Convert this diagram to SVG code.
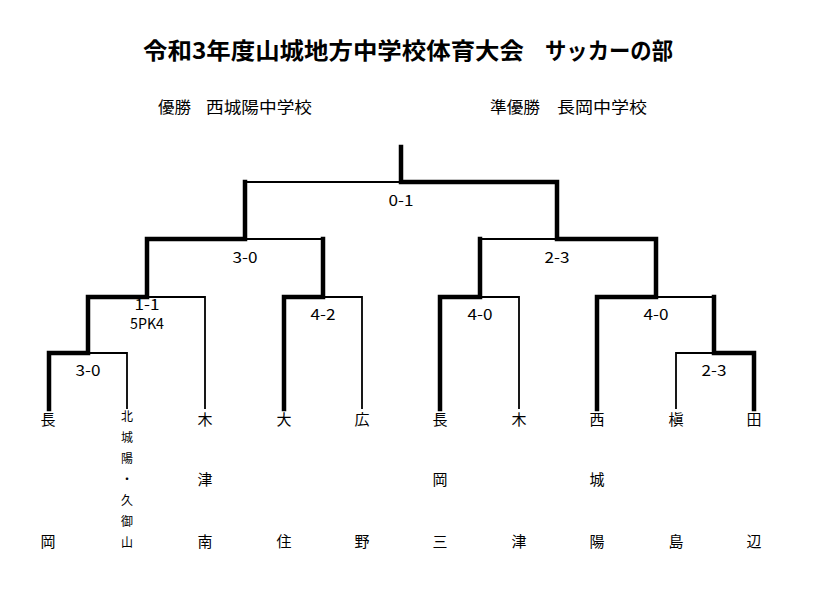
<svg xmlns="http://www.w3.org/2000/svg" width="819" height="594" viewBox="0 0 819 594">
<style>
text{font-family:"Noto Sans CJK JP","Liberation Sans",sans-serif;fill:#000}
.title{font-size:23px;font-weight:bold}
.sub{font-size:16px}
.score{font-size:15px;text-anchor:middle}
.team{font-size:15px;text-anchor:middle}
.small{font-size:12px;text-anchor:middle}
.thick{fill:none;stroke:#000;stroke-width:4.5;stroke-linecap:square;stroke-linejoin:miter}
.thin{fill:none;stroke:#000;stroke-width:1.8}
</style>
<rect width="819" height="594" fill="#fff"/>
<g id="title">
<text class="title" x="143" y="59" textLength="381" lengthAdjust="spacingAndGlyphs">令和3年度山城地方中学校体育大会</text>
<text class="title" x="545" y="59" textLength="128" lengthAdjust="spacingAndGlyphs">サッカーの部</text>
</g>
<g id="results">
<text class="sub" x="158" y="113" textLength="33" lengthAdjust="spacingAndGlyphs">優勝</text>
<text class="sub" x="206" y="113" textLength="106" lengthAdjust="spacingAndGlyphs">西城陽中学校</text>
<text class="sub" x="490" y="113" textLength="50" lengthAdjust="spacingAndGlyphs">準優勝</text>
<text class="sub" x="557" y="113" textLength="90" lengthAdjust="spacingAndGlyphs">長岡中学校</text>
</g>
<g id="connectors">
<path class="thin" d="M127 409V353H88"/>
<path class="thin" d="M205 409V297H147"/>
<path class="thin" d="M362 409V297H323"/>
<path class="thin" d="M519 409V297H480"/>
<path class="thin" d="M676 409V353H714"/>
<path class="thin" d="M245 239H323"/>
<path class="thin" d="M480 239H557"/>
<path class="thin" d="M656 297H714"/>
<path class="thin" d="M245 182H401"/>
<path class="thick" d="M49 409V353H88V297H147V239H245V182"/>
<path class="thick" d="M284 409V297H323V239"/>
<path class="thick" d="M440 409V297H480V239"/>
<path class="thick" d="M597 409V297H656V239H557V182H401V147"/>
<path class="thick" d="M754 409V353H714V297"/>
</g>
<g id="scores">
<text class="score" x="401" y="206" textLength="25" lengthAdjust="spacingAndGlyphs">0-1</text>
<text class="score" x="245" y="263" textLength="25" lengthAdjust="spacingAndGlyphs">3-0</text>
<text class="score" x="557" y="263" textLength="25" lengthAdjust="spacingAndGlyphs">2-3</text>
<text class="score" x="147" y="310" textLength="25" lengthAdjust="spacingAndGlyphs">1-1</text>
<text class="score" x="147" y="329" textLength="34" lengthAdjust="spacingAndGlyphs">5PK4</text>
<text class="score" x="323" y="320" textLength="25" lengthAdjust="spacingAndGlyphs">4-2</text>
<text class="score" x="480" y="320" textLength="25" lengthAdjust="spacingAndGlyphs">4-0</text>
<text class="score" x="656" y="320" textLength="25" lengthAdjust="spacingAndGlyphs">4-0</text>
<text class="score" x="88" y="376" textLength="25" lengthAdjust="spacingAndGlyphs">3-0</text>
<text class="score" x="714" y="376" textLength="25" lengthAdjust="spacingAndGlyphs">2-3</text>
</g>
<g id="team-nagaoka"><text class="team" x="48" y="425">長</text><text class="team" x="48" y="547">岡</text></g>
<g id="team-kitajoyo-kumiyama">
<text class="small" x="127" y="421">北</text>
<text class="small" x="127" y="442">城</text>
<text class="small" x="127" y="463">陽</text>
<text class="small" x="127" y="484">・</text>
<text class="small" x="127" y="505">久</text>
<text class="small" x="127" y="526">御</text>
<text class="small" x="127" y="547">山</text>
</g>
<g id="team-kizuminami"><text class="team" x="205" y="425">木</text><text class="team" x="205" y="485">津</text><text class="team" x="205" y="547">南</text></g>
<g id="team-ohsumi"><text class="team" x="284" y="425">大</text><text class="team" x="284" y="547">住</text></g>
<g id="team-hirono"><text class="team" x="362" y="425">広</text><text class="team" x="362" y="547">野</text></g>
<g id="team-nagaokamisan"><text class="team" x="440" y="425">長</text><text class="team" x="440" y="485">岡</text><text class="team" x="440" y="547">三</text></g>
<g id="team-kizu"><text class="team" x="519" y="425">木</text><text class="team" x="519" y="547">津</text></g>
<g id="team-nishijoyo"><text class="team" x="597" y="425">西</text><text class="team" x="597" y="485">城</text><text class="team" x="597" y="547">陽</text></g>
<g id="team-makishima"><text class="team" x="676" y="425">槇</text><text class="team" x="676" y="547">島</text></g>
<g id="team-tanabe"><text class="team" x="754" y="425">田</text><text class="team" x="754" y="547">辺</text></g>
</svg>
